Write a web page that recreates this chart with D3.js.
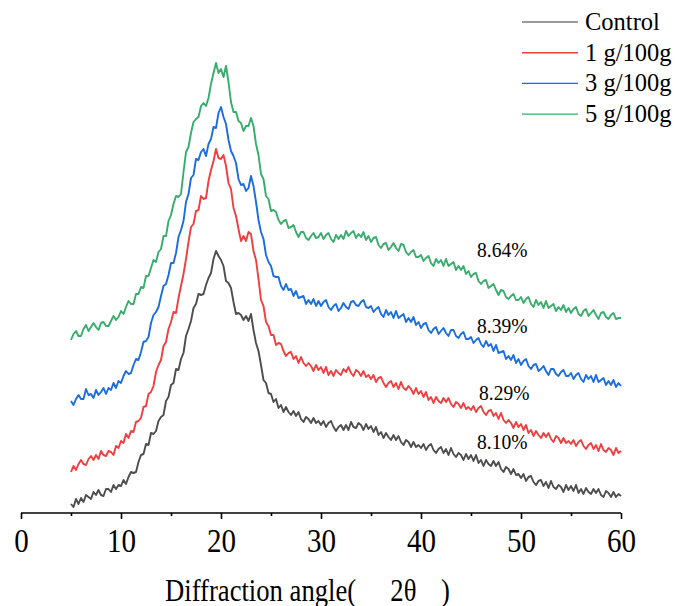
<!DOCTYPE html>
<html lang="en">

<head>
    <meta charset="utf-8">
    <title>xrd</title>
    <style>
        body {
            margin: 0;
            background: #fff;
        }

        .tick text {
            font-family: "Liberation Serif", "Times New Roman", serif;
        }

        .label {
            font-family: "Liberation Serif", "Times New Roman", serif;
            fill: #000;
        }
    </style>
</head>

<body>
    <div id="chart"></div>
    <script src="https://cdn.jsdelivr.net/npm/d3@7"></script>
    <script>
        // diffraction angle (2θ), one reading every quarter degree
        var angles = [
            5, 5.25, 5.5, 5.75, 6, 6.25, 6.5, 6.75, 7, 7.25, 7.5, 7.75, 8, 8.25, 8.5, 8.75, 9, 9.25, 9.5, 9.75,
            10, 10.25, 10.5, 10.75, 11, 11.25, 11.5, 11.75, 12, 12.25, 12.5, 12.75, 13, 13.25, 13.5, 13.75, 14, 14.25, 14.5, 14.75,
            15, 15.25, 15.5, 15.75, 16, 16.25, 16.5, 16.75, 17, 17.25, 17.5, 17.75, 18, 18.25, 18.5, 18.75, 19, 19.25, 19.5, 19.75,
            20, 20.25, 20.5, 20.75, 21, 21.25, 21.5, 21.75, 22, 22.25, 22.5, 22.75, 23, 23.25, 23.5, 23.75, 24, 24.25, 24.5, 24.75,
            25, 25.25, 25.5, 25.75, 26, 26.25, 26.5, 26.75, 27, 27.25, 27.5, 27.75, 28, 28.25, 28.5, 28.75, 29, 29.25, 29.5, 29.75,
            30, 30.25, 30.5, 30.75, 31, 31.25, 31.5, 31.75, 32, 32.25, 32.5, 32.75, 33, 33.25, 33.5, 33.75, 34, 34.25, 34.5, 34.75,
            35, 35.25, 35.5, 35.75, 36, 36.25, 36.5, 36.75, 37, 37.25, 37.5, 37.75, 38, 38.25, 38.5, 38.75, 39, 39.25, 39.5, 39.75,
            40, 40.25, 40.5, 40.75, 41, 41.25, 41.5, 41.75, 42, 42.25, 42.5, 42.75, 43, 43.25, 43.5, 43.75, 44, 44.25, 44.5, 44.75,
            45, 45.25, 45.5, 45.75, 46, 46.25, 46.5, 46.75, 47, 47.25, 47.5, 47.75, 48, 48.25, 48.5, 48.75, 49, 49.25, 49.5, 49.75,
            50, 50.25, 50.5, 50.75, 51, 51.25, 51.5, 51.75, 52, 52.25, 52.5, 52.75, 53, 53.25, 53.5, 53.75, 54, 54.25, 54.5, 54.75,
            55, 55.25, 55.5, 55.75, 56, 56.25, 56.5, 56.75, 57, 57.25, 57.5, 57.75, 58, 58.25, 58.5, 58.75, 59, 59.25, 59.5, 59.75,
            60
        ];

        // intensity (a.u., curves offset for stacking)
        var control = [
            9, 6, 14, 9, 15, 11, 18, 16, 14, 21, 18, 23, 18, 17, 24, 24, 21, 28, 24, 28,
            27, 33, 29, 36, 41, 40, 41, 51, 58, 59, 69, 68, 80, 79, 82, 92, 96, 98, 112, 116,
            128, 130, 144, 143, 154, 160, 177, 184, 192, 205, 209, 219, 218, 219, 228, 235, 240, 254, 262, 257,
            253, 247, 232, 230, 225, 211, 199, 200, 198, 193, 197, 192, 199, 183, 170, 162, 148, 133, 130, 120,
            119, 111, 114, 105, 108, 101, 106, 101, 98, 102, 97, 101, 94, 91, 96, 94, 90, 95, 90, 92,
            88, 92, 86, 90, 92, 86, 82, 86, 88, 83, 88, 83, 91, 86, 85, 90, 88, 83, 89, 84,
            87, 81, 86, 78, 81, 75, 80, 76, 73, 78, 73, 77, 71, 68, 73, 71, 66, 71, 66, 68,
            65, 69, 63, 67, 69, 63, 60, 64, 66, 60, 64, 58, 65, 59, 56, 60, 58, 53, 59, 54,
            58, 52, 58, 50, 53, 47, 53, 49, 47, 52, 47, 51, 44, 41, 46, 44, 39, 44, 38, 39,
            35, 39, 32, 36, 37, 31, 28, 32, 33, 27, 31, 25, 32, 26, 24, 28, 26, 21, 28, 23,
            27, 22, 28, 20, 24, 19, 25, 21, 19, 24, 20, 24, 18, 16, 22, 20, 16, 21, 16, 19,
            17
        ];
        var g1 = [
            41, 47, 43, 49, 53, 49, 48, 54, 57, 53, 58, 54, 62, 58, 57, 62, 61, 58, 67, 65,
            72, 70, 79, 75, 82, 81, 91, 92, 95, 106, 107, 119, 121, 127, 141, 148, 153, 167, 171, 184,
            191, 201, 200, 215, 227, 239, 254, 271, 286, 289, 302, 303, 317, 314, 315, 332, 343, 352, 364, 355,
            354, 358, 347, 330, 324, 305, 297, 284, 272, 277, 272, 281, 279, 262, 253, 234, 213, 207, 191, 187,
            178, 178, 168, 170, 169, 162, 157, 160, 161, 154, 157, 150, 156, 150, 147, 150, 147, 142, 148, 143,
            146, 140, 146, 138, 142, 137, 143, 140, 138, 144, 141, 146, 140, 137, 143, 141, 137, 142, 136, 138,
            134, 138, 131, 135, 136, 130, 126, 130, 132, 126, 130, 124, 131, 125, 123, 127, 124, 119, 125, 119,
            122, 116, 121, 113, 116, 110, 116, 112, 110, 115, 111, 115, 109, 106, 111, 109, 105, 110, 104, 106,
            103, 107, 101, 105, 107, 101, 98, 102, 103, 97, 100, 94, 100, 93, 90, 93, 90, 85, 91, 86,
            89, 83, 88, 80, 83, 77, 82, 78, 75, 80, 76, 80, 74, 71, 77, 75, 70, 75, 70, 72,
            69, 73, 67, 71, 73, 67, 64, 68, 70, 64, 68, 62, 69, 63, 61, 65, 63, 58, 65, 60,
            62
        ];
        var g3 = [
            112, 108, 114, 118, 114, 114, 124, 118, 119, 115, 123, 118, 121, 125, 119, 125, 123, 130, 125, 132,
            130, 137, 142, 139, 140, 148, 154, 153, 161, 171, 172, 176, 190, 198, 201, 206, 217, 227, 229, 238,
            250, 250, 260, 276, 283, 292, 311, 319, 335, 338, 354, 353, 361, 364, 357, 369, 374, 386, 385, 400,
            406, 396, 389, 373, 362, 357, 350, 334, 328, 329, 322, 325, 337, 327, 311, 293, 281, 274, 258, 251,
            247, 237, 236, 236, 227, 223, 229, 223, 224, 217, 222, 215, 216, 217, 209, 213, 209, 214, 207, 212,
            207, 211, 213, 206, 203, 207, 209, 202, 205, 210, 206, 204, 211, 212, 208, 207, 211, 213, 206, 205,
            207, 201, 204, 206, 199, 196, 203, 198, 201, 195, 202, 195, 197, 199, 191, 195, 191, 196, 188, 191,
            185, 189, 190, 183, 180, 184, 186, 179, 182, 185, 180, 177, 183, 183, 177, 175, 179, 181, 174, 174,
            176, 170, 173, 175, 169, 166, 172, 167, 169, 162, 168, 160, 161, 162, 154, 157, 153, 158, 150, 154,
            148, 152, 154, 147, 144, 148, 149, 142, 144, 147, 142, 138, 144, 144, 139, 137, 141, 143, 137, 137,
            140, 134, 138, 140, 134, 131, 138, 134, 137, 131, 138, 131, 133, 135, 128, 132, 128, 133, 126, 130,
            127
        ];
        var g5 = [
            173, 179, 182, 177, 177, 184, 188, 182, 186, 190, 186, 183, 190, 191, 187, 187, 192, 197, 193, 196,
            202, 199, 206, 212, 209, 209, 219, 219, 226, 225, 237, 237, 245, 253, 251, 261, 264, 277, 277, 292,
            298, 309, 317, 316, 319, 341, 361, 366, 380, 391, 394, 396, 407, 410, 407, 415, 429, 440, 450, 440,
            444, 436, 447, 431, 411, 401, 401, 392, 390, 382, 387, 387, 395, 387, 369, 358, 339, 334, 317, 314,
            302, 303, 301, 293, 289, 292, 293, 285, 286, 288, 281, 276, 281, 281, 275, 273, 277, 280, 275, 276,
            280, 274, 278, 280, 274, 271, 278, 274, 278, 274, 282, 277, 280, 282, 275, 279, 276, 281, 273, 277,
            271, 275, 276, 268, 265, 269, 270, 263, 266, 270, 265, 262, 269, 268, 261, 258, 261, 263, 256, 256,
            258, 252, 255, 257, 250, 247, 254, 250, 253, 247, 254, 247, 249, 251, 243, 247, 243, 247, 239, 242,
            236, 239, 240, 232, 229, 232, 233, 225, 227, 229, 223, 218, 223, 222, 216, 214, 217, 219, 213, 213,
            216, 210, 214, 216, 209, 206, 213, 208, 211, 205, 212, 205, 207, 209, 202, 206, 203, 208, 201, 205,
            200, 204, 206, 199, 197, 202, 204, 197, 200, 203, 198, 194, 200, 201, 196, 194, 198, 200, 194, 195,
            195
        ];

        var seriesNames = ['Control', '1 g/100g', '3 g/100g', '5 g/100g'];
        var seriesValues = [control, g1, g3, g5];
        var crystallinity = ['8.10%', '8.29%', '8.39%', '8.64%'];
        var labelAngles = [45.6, 45.8, 45.6, 45.6];
        var labelValues = [64, 113, 180, 256];
        var xTicks = [0, 10, 20, 30, 40, 50, 60];
        var xMinorTicks = [5, 15, 25, 35, 45, 55];

        var colors = ['#4d4d4d', '#f03e3e', '#1a6de0', '#36ad6b'];
        var legendColors = ['#7a7a7a', '#f03e3e', '#1a6de0', '#36ad6b'];

        var svgWidth = 676;
        var svgHeight = 606;
        var axisY = 513;

        var svg = d3.select('#chart')
            .append('svg')
            .attr('width', svgWidth)
            .attr('height', svgHeight);

        var xScale = d3.scaleLinear().domain([0, 60]).range([21, 621]);
        var yScale = d3.scaleLinear().domain([0, 500]).range([axisY, 13]);

        var line = d3.line()
            .x((d) => xScale(d[0]))
            .y((d) => yScale(d[1]));

        // curves
        svg.selectAll('path.curve')
            .data(seriesValues)
            .enter()
            .append('path')
            .attr('class', 'curve')
            .attr('d', (vals) => line(angles.map((a, i) => [a, vals[i]])))
            .attr('fill', 'none')
            .attr('stroke', (d, i) => colors[i])
            .attr('stroke-width', 1.9)
            .attr('stroke-linejoin', 'round');

        // x axis, major + minor ticks
        var xAxis = d3.axisBottom(xScale).tickValues(xTicks).tickSize(6).tickFormat(d3.format('d'));
        var xMinor = d3.axisBottom(xScale).tickValues(xMinorTicks).tickSize(3).tickFormat('');

        var gx = svg.append('g')
            .attr('transform', `translate(0,${axisY})`)
            .call(xAxis);
        gx.select('.domain').attr('d', `M${xScale(0)},0H${xScale(60)}`).attr('stroke', '#000').attr('stroke-width', 1.6);
        gx.selectAll('.tick line').attr('stroke', '#000').attr('stroke-width', 1.6);
        gx.selectAll('.tick text')
            .attr('y', 39)
            .attr('dy', 0)
            .attr('font-size', 33)
            .attr('fill', '#000')
            .attr('transform', 'scale(0.88,1)');

        var gm = svg.append('g')
            .attr('transform', `translate(0,${axisY})`)
            .call(xMinor);
        gm.select('.domain').remove();
        gm.selectAll('.tick line').attr('stroke', '#000').attr('stroke-width', 1.6);

        // axis title
        var title = svg.append('text')
            .attr('class', 'label')
            .attr('transform', 'translate(165,601) scale(0.86,1)')
            .attr('font-size', 31);
        title.append('tspan').text('Diffraction angle(');
        title.append('tspan').attr('x', 262).text('2θ');
        title.append('tspan').attr('x', 321).text(')');

        // crystallinity labels
        svg.selectAll('text.pct')
            .data(crystallinity)
            .enter()
            .append('text')
            .attr('class', 'label pct')
            .attr('transform', (d, i) => `translate(${xScale(labelAngles[i])},${yScale(labelValues[i])}) scale(0.93,1)`)
            .attr('font-size', 21)
            .text((d) => d);

        // legend
        var legend = svg.selectAll('g.legend')
            .data(seriesNames)
            .enter()
            .append('g')
            .attr('class', 'legend')
            .attr('transform', (d, i) => `translate(522,${22 + i * 30.7})`);
        legend.append('line')
            .attr('x1', 0)
            .attr('x2', 56)
            .attr('stroke', (d, i) => legendColors[i])
            .attr('stroke-width', 1.4);
        legend.append('text')
            .attr('class', 'label')
            .attr('x', 63)
            .attr('y', 8)
            .attr('font-size', 24.5)
            .text((d) => d);
    </script>
</body>

</html>
